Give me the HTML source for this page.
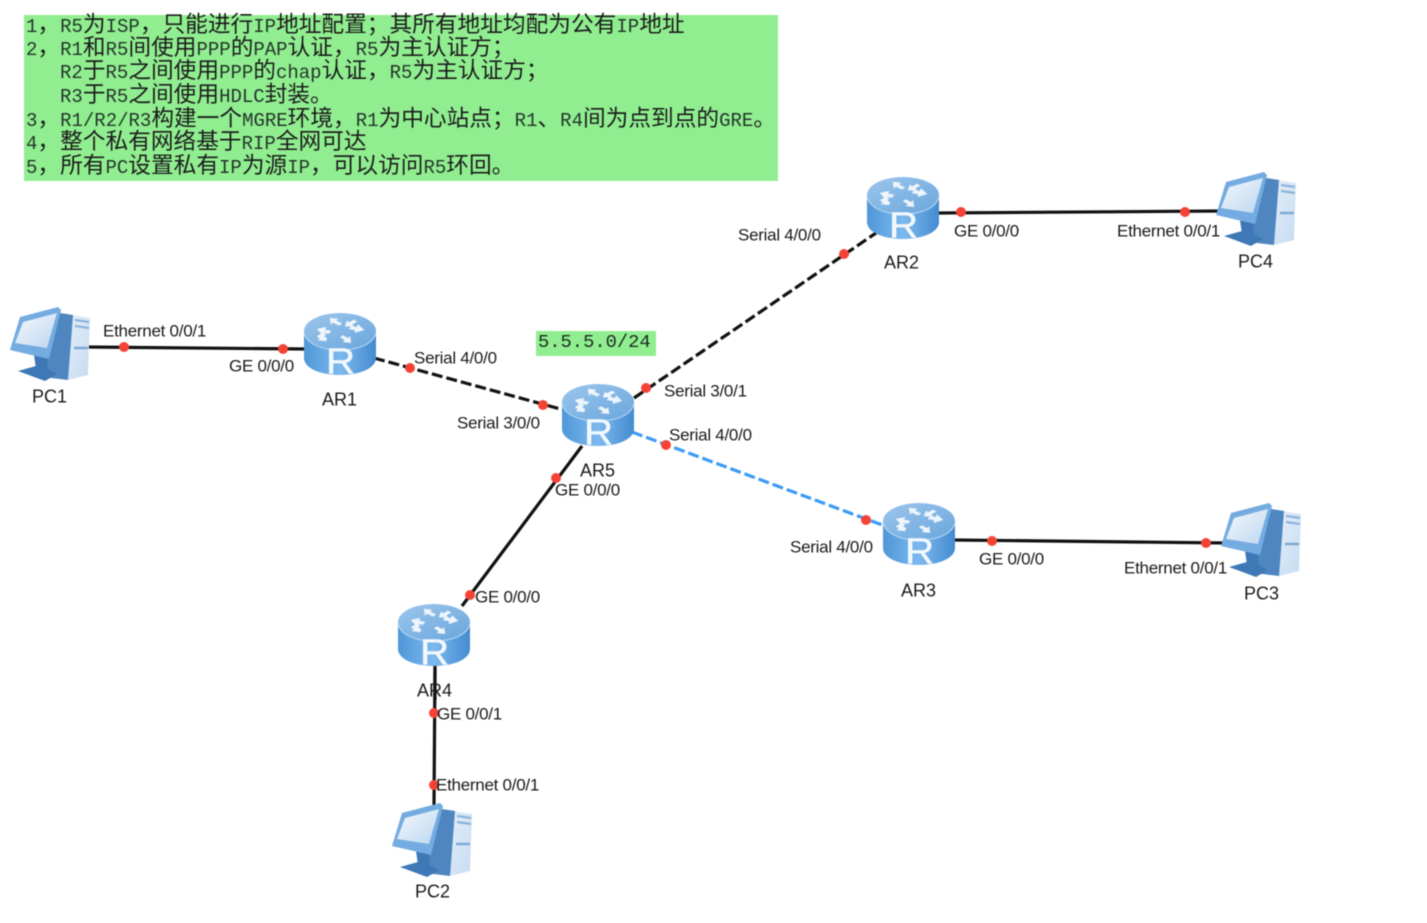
<!DOCTYPE html>
<html><head><meta charset="utf-8">
<style>
html,body{margin:0;padding:0;background:#fff;width:1427px;height:923px;overflow:hidden}
svg{display:block;filter:blur(0.4px)}
.l{font-family:"Liberation Sans",sans-serif;font-size:17px;fill:#1a1a1a;letter-spacing:-0.27px}
.n{font-family:"Liberation Sans",sans-serif;font-size:18px;fill:#1a1a1a}
.t{font-family:"Liberation Sans","Noto Sans CJK SC",sans-serif;font-size:22.7px;fill:#1c1c1c}
.t tspan{font-family:"Liberation Mono",monospace;font-size:19px;fill:#24352a}
</style></head><body>
<svg width="1427" height="923" viewBox="0 0 1427 923" xmlns="http://www.w3.org/2000/svg">
<defs>
<linearGradient id="rs" x1="0" x2="1" y1="0" y2="0"><stop offset="0" stop-color="#4f97d8"/><stop offset=".5" stop-color="#7db9ee"/><stop offset="1" stop-color="#438bd0"/></linearGradient>
<linearGradient id="rt" x1="0" x2="1" y1="0" y2="1"><stop offset="0" stop-color="#9cc6ec"/><stop offset="1" stop-color="#6aa6dd"/></linearGradient>
<linearGradient id="sc" x1="0" x2="1" y1="0" y2="1"><stop offset="0" stop-color="#f5f9fe"/><stop offset="1" stop-color="#bcd6ef"/></linearGradient>
<linearGradient id="tw" x1="0" x2="1" y1="0" y2="1"><stop offset="0" stop-color="#e8f1fa"/><stop offset="1" stop-color="#c6dcf1"/></linearGradient>
<g id="r">
<path d="M0 19V45C0 55 16 62 36 62S72 55 72 45V19Z" fill="url(#rs)"/>
<ellipse cx="36" cy="18" rx="36" ry="18" fill="url(#rt)"/>
<path d="M0 20C3 31 18 37 36 37S69 31 72 20" fill="none" stroke="#b9d8f2" stroke-width="1.2"/>
<g fill="#eef5fc" stroke="#eef5fc" stroke-width=".4" transform="translate(36 16) scale(1 .92) translate(-36 -18)">
<path d="M26 6l8 1-2 2 6 3-3 2-6-3-2 2z"/>
<path d="M50 8l3 2-5 3 2 2-9 0 2-6 2 2z"/>
<path d="M22 31l-8-1 2-2-3-2 6-4 3 2-2 2 3 2z"/>
<path d="M47 33l-8-1 2-2-5-3 3-2 5 3 2-2z"/>
<path d="M13 18l9-2-1 3 6 1-2 3-6-1-1 2z"/>
<path d="M60 19l-9 3 0-3-6-1 2-3 6 1 1-3z"/>
</g>
<text transform="translate(22 60.5) scale(1.12 1)" font-family="Liberation Sans,sans-serif" font-size="36" stroke="#f2f8fe" stroke-width=".4" fill="#f2f8fe">R</text>
</g>
<g id="pc">
<path d="M49 6L79 11L77 68L57 73Z" fill="url(#tw)"/>
<path d="M49 6L62 8L57 73L32 70L37 40Z" fill="#4f86c0"/>
<path d="M64 13L78 15M64 19L78 21" stroke="#8db4dc" stroke-width="2.2"/>
<path d="M63 41H77" stroke="#7fa9d4" stroke-width="2.5"/>
<path d="M23 48L36 50L37 66L25 62Z" fill="#3f78b6"/>
<path d="M7 64L25 59L36 62L46 67L34 74Z" fill="#3f78b6"/>
<path d="M9 10L47 0L50 3L38 52L-1 43Z" fill="#74abe0"/>
<path d="M12 15L46 6L36 41L4 36Z" fill="url(#sc)"/>
</g>
</defs>
<rect width="1427" height="923" fill="#fff"/>
<rect x="24" y="15" width="754" height="166" fill="#90ee90"/>
<text class="t" x="26" y="32"><tspan>1</tspan>，<tspan>R5</tspan>为<tspan>ISP</tspan>，只能进行<tspan>IP</tspan>地址配置；其所有地址均配为公有<tspan>IP</tspan>地址</text>
<text class="t" x="26" y="55"><tspan>2</tspan>，<tspan>R1</tspan>和<tspan>R5</tspan>间使用<tspan>PPP</tspan>的<tspan>PAP</tspan>认证，<tspan>R5</tspan>为主认证方；</text>
<text class="t" x="60" y="78"><tspan>R2</tspan>于<tspan>R5</tspan>之间使用<tspan>PPP</tspan>的<tspan>chap</tspan>认证，<tspan>R5</tspan>为主认证方；</text>
<text class="t" x="60" y="102"><tspan>R3</tspan>于<tspan>R5</tspan>之间使用<tspan>HDLC</tspan>封装。</text>
<text class="t" x="26" y="126"><tspan>3</tspan>，<tspan>R1/R2/R3</tspan>构建一个<tspan>MGRE</tspan>环境，<tspan>R1</tspan>为中心站点；<tspan>R1</tspan>、<tspan>R4</tspan>间为点到点的<tspan>GRE</tspan>。</text>
<text class="t" x="26" y="149"><tspan>4</tspan>，整个私有网络基于<tspan>RIP</tspan>全网可达</text>
<text class="t" x="26" y="173"><tspan>5</tspan>，所有<tspan>PC</tspan>设置私有<tspan>IP</tspan>为源<tspan>IP</tspan>，可以访问<tspan>R5</tspan>环回。</text>
<rect x="536" y="331" width="120" height="25" fill="#90ee90"/>
<text x="538" y="347" font-family="Liberation Mono,monospace" font-size="18.8" fill="#1c2c20">5.5.5.0/24</text>

<g fill="none" stroke="#111" stroke-width="3.2">
<path d="M86 347L306 349"/>
<path d="M938 213L1222 211"/>
<path d="M954 540L1228 543"/>
<path d="M582 446L462 606"/>
<path d="M435 665L434 806"/>
<path d="M374 358L564 410" stroke-dasharray="11 4"/>
<path d="M634 398L876 233" stroke-dasharray="11 4"/>
<path d="M632 432L885 526" stroke="#3d9bf5" stroke-dasharray="11 4"/>
</g>

<use href="#r" x="304" y="313"/>
<use href="#r" x="867" y="177"/>
<use href="#r" x="562" y="384"/>
<use href="#r" x="883" y="503"/>
<use href="#r" x="398" y="604"/>
<use href="#pc" x="11" y="307"/>
<use href="#pc" x="1217" y="172"/>
<use href="#pc" x="1222" y="503"/>
<use href="#pc" x="393" y="803"/>
<path d="M435 667V700" stroke="#111" stroke-width="3.2"/>

<g fill="#f44336">
<circle cx="124" cy="347" r="5"/><circle cx="283" cy="349" r="5"/>
<circle cx="410" cy="368" r="5"/><circle cx="543" cy="405" r="5"/>
<circle cx="646" cy="388" r="5"/><circle cx="844" cy="254" r="5"/>
<circle cx="961" cy="212" r="5"/><circle cx="1185" cy="212" r="5"/>
<circle cx="666" cy="445" r="5"/><circle cx="866" cy="520" r="5"/>
<circle cx="992" cy="541" r="5"/><circle cx="1206" cy="543" r="5"/>
<circle cx="556" cy="478" r="5"/><circle cx="470" cy="595" r="5"/>
<circle cx="434" cy="713" r="5"/><circle cx="434" cy="785" r="5"/>
</g>

<g transform="translate(0 .5)">
<text class="l" x="103" y="336">Ethernet 0/0/1</text>
<text class="l" x="229" y="371">GE 0/0/0</text>
<text class="l" x="414" y="363">Serial 4/0/0</text>
<text class="l" x="457" y="428">Serial 3/0/0</text>
<text class="l" x="664" y="396">Serial 3/0/1</text>
<text class="l" x="669" y="440">Serial 4/0/0</text>
<text class="l" x="738" y="240">Serial 4/0/0</text>
<text class="l" x="954" y="236">GE 0/0/0</text>
<text class="l" x="1117" y="236">Ethernet 0/0/1</text>
<text class="l" x="790" y="552">Serial 4/0/0</text>
<text class="l" x="979" y="564">GE 0/0/0</text>
<text class="l" x="1124" y="573">Ethernet 0/0/1</text>
<text class="l" x="555" y="495">GE 0/0/0</text>
<text class="l" x="475" y="602">GE 0/0/0</text>
<text class="l" x="437" y="719">GE 0/0/1</text>
<text class="l" x="436" y="790">Ethernet 0/0/1</text>
<text class="n" x="32" y="402">PC1</text>
<text class="n" x="322" y="405">AR1</text>
<text class="n" x="884" y="268">AR2</text>
<text class="n" x="1238" y="267">PC4</text>
<text class="n" x="580" y="476">AR5</text>
<text class="n" x="901" y="596">AR3</text>
<text class="n" x="1244" y="599">PC3</text>
<text class="n" x="417" y="696">AR4</text>
<text class="n" x="415" y="897">PC2</text>
</g>
</svg>
</body></html>
